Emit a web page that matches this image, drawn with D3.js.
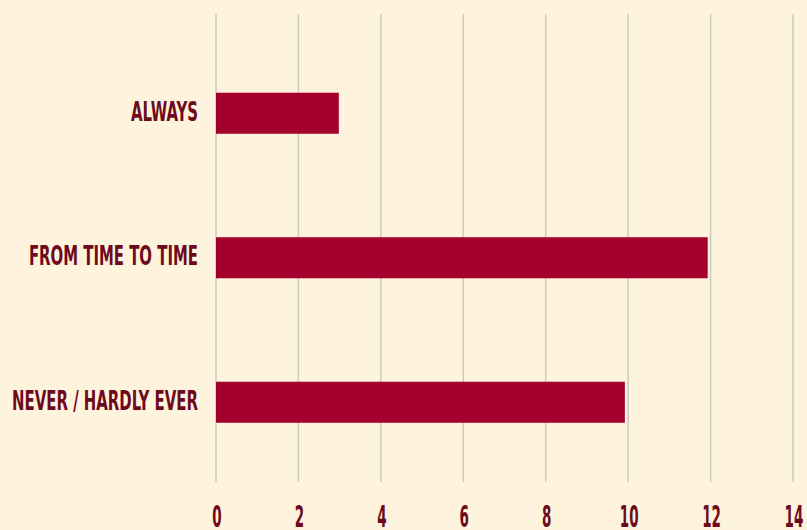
<!DOCTYPE html>
<html>
<head>
<meta charset="utf-8">
<script src="https://cdn.jsdelivr.net/npm/d3@7"></script>
<style>
  html, body { margin: 0; padding: 0; background: #fef3dc; }
  svg { display: block; }
  .lbl { font-family: "DejaVu Sans Condensed", "DejaVu Sans", sans-serif; font-stretch: condensed; font-weight: bold; fill: #6d0a1c; }
</style>
</head>
<body>
<svg id="chart"></svg>
<script>
// data
const categories = ['ALWAYS', 'FROM TIME TO TIME', 'NEVER / HARDLY EVER'];
const values = [2.98, 11.93, 9.92];
const ticks = [0, 2, 4, 6, 8, 10, 12, 14];

const width = 807, height = 530;
const svg = d3.select('#chart').attr('width', width).attr('height', height);

svg.append('rect').attr('width', width).attr('height', height).attr('fill', '#fef3dc');

const x = d3.scaleLinear().domain([0, 14]).range([216, 793]);
const y = d3.scaleBand().domain(categories).range([41, 474.5])
    .paddingInner(0.716).paddingOuter(0.358);

// gridlines
svg.append('g')
    .selectAll('line')
    .data(ticks)
    .join('line')
    .attr('x1', d => x(d)).attr('x2', d => x(d))
    .attr('y1', 14).attr('y2', 482)
    .attr('stroke', '#cdcac2')
    .attr('stroke-width', 1.5);

// bars
svg.append('g')
    .selectAll('rect')
    .data(values)
    .join('rect')
    .attr('x', x(0))
    .attr('y', (d, i) => y(categories[i]))
    .attr('width', d => x(d) - x(0))
    .attr('height', y.bandwidth())
    .attr('fill', '#a3002d');

// category labels, squeezed so the longest one is as wide as in the original
const labels = svg.append('g')
    .selectAll('text')
    .data(categories)
    .join('text')
    .attr('class', 'lbl')
    .attr('text-anchor', 'end')
    .attr('font-size', 26)
    .text(d => d);

const longest = d3.max(labels.nodes(), n => n.getComputedTextLength());
const sx = 186 / longest;
labels.attr('transform', d => `translate(198,${y(d) + y.bandwidth() / 2 + 7.5}) scale(${sx},1)`);

// tick labels
svg.append('g')
    .selectAll('text')
    .data(ticks)
    .join('text')
    .attr('class', 'lbl')
    .attr('text-anchor', 'middle')
    .attr('font-size', 30)
    .attr('transform', d => `translate(${x(d) + 1},527) scale(0.5,1)`)
    .text(d => d);
</script>
</body>
</html>
